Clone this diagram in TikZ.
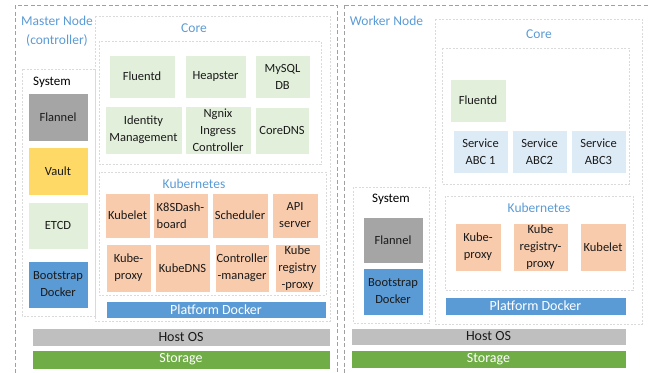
\documentclass[tikz,border=0pt]{standalone}
\usepackage{fontspec}
\setmainfont{Carlito}
\definecolor{hdr}{HTML}{5B9BD5}
\definecolor{grn}{HTML}{E2EFDA}
\definecolor{flan}{HTML}{A5A5A5}
\definecolor{vault}{HTML}{FFD966}
\definecolor{bdock}{HTML}{5B9BD5}
\definecolor{orng}{HTML}{F8CBAD}
\definecolor{svc}{HTML}{DDEBF7}
\definecolor{host}{HTML}{BFBFBF}
\definecolor{stor}{HTML}{70AD47}
\definecolor{txt}{HTML}{1A1A1A}
\definecolor{outerd}{HTML}{A0A0A0}
\definecolor{innerd}{HTML}{DADADA}
\newcommand\bxn[7]{\node[#1, minimum width={(#5-#3)*1pt}, minimum height={(#6-#4)*1pt}] (#2) at ({(#3+#5)/2},{(#4+#6)/2}) {#7};}
\tikzset{
  bx/.style={draw=white, line width=0.6pt, inner sep=0pt, align=center, text=txt, font=\fontsize{12.5}{17}\selectfont},
  bar/.style={bx, font=\fontsize{14}{16}\selectfont},
  outerbox/.style={draw=outerd, line width=0.8pt, dash pattern=on 4pt off 2.5pt},
  innerbox/.style={draw=innerd, line width=0.6pt, dash pattern=on 2pt off 1.5pt},
  hdrtxt/.style={text=hdr, font=\fontsize{13.5}{16}\selectfont, inner sep=0pt},
  systxt/.style={text=black, font=\fontsize{13}{16}\selectfont, inner sep=0pt}
}
\begin{document}
\begin{tikzpicture}[x=1pt,y=-1pt]
\useasboundingbox (0,0) rectangle (650,372);
\clip (0,0) rectangle (650,372);
% ---------- Master ----------
\draw[outerbox] (15,5) rectangle (337,385);
\node[hdrtxt] (mlab1) at (57,21) {Master Node};
\node[hdrtxt] (mlab2) at (57,40) {(controller)};
\draw[innerbox] (95,16) rectangle (330,321);
\node[hdrtxt] (mcore) at (194,28) {Core};
\draw[innerbox] (99,41) rectangle (321,164);
\bxn{bx,fill=grn}{mfluent}{109}{55}{175}{98}{Fluentd}
\bxn{bx,fill=grn}{mheap}{185}{55}{246}{98}{Heapster}
\bxn{bx,fill=grn}{mmysql}{255}{55}{310}{98}{MySQL\\DB}
\bxn{bx,fill=grn}{mident}{105}{106}{182}{154}{Identity\\Management}
\bxn{bx,fill=grn}{mngnix}{185}{106}{251}{154}{Ngnix\\Ingress\\Controller}
\bxn{bx,fill=grn}{mcoredns}{255}{107}{309}{154}{CoreDNS}
\draw[innerbox] (22,69) rectangle (95,316);
\node[systxt] (msys) at (52,82) {System};
\bxn{bx,fill=flan}{mflannel}{28}{93}{88}{141}{Flannel}
\bxn{bx,fill=vault}{mvault}{28}{147}{88}{195}{Vault}
\bxn{bx,fill=grn}{metcd}{28}{202}{88}{249}{ETCD}
\bxn{bx,fill=bdock}{mboot}{28}{261}{88}{308}{Bootstrap\\Docker}
\draw[innerbox] (99,172) rectangle (326,295);
\node[hdrtxt] (mkube) at (194,184) {Kubernetes};
\bxn{bx,fill=orng}{mkubelet}{105}{193}{150}{238}{Kubelet}
\bxn{bx,fill=orng,align=left}{mdash}{153}{193}{208}{238}{K8SDash-\\board}
\bxn{bx,fill=orng}{msched}{212}{193}{268}{238}{Scheduler}
\bxn{bx,fill=orng}{mapi}{272}{193}{318}{238}{API\\server}
\bxn{bx,fill=orng}{mkproxy}{106}{244}{151}{292}{Kube-\\proxy}
\bxn{bx,fill=orng}{mkdns}{155}{244}{210}{292}{KubeDNS}
\bxn{bx,fill=orng}{mctrl}{215}{244}{269}{292}{Controller\\-manager}
\bxn{bx,fill=orng}{mkreg}{275}{244}{320}{292}{Kube\\registry\\-proxy}
\bxn{bar,fill=bdock,text=white}{mpdock}{106}{301}{326}{318}{Platform Docker}
\bxn{bar,fill=host,text=txt}{mhost}{32}{328}{330}{346}{Host OS}
\bxn{bar,fill=stor,text=white}{mstor}{32}{350}{330}{369}{Storage}
% ---------- Worker ----------
\draw[outerbox] (344,5) rectangle (665,385);
\node[hdrtxt] (wlab) at (386.5,21) {Worker Node};
\draw[innerbox] (435,19) rectangle (642,324);
\node[hdrtxt] (wcore) at (539,34) {Core};
\draw[innerbox] (442,48) rectangle (629,184);
\bxn{bx,fill=grn}{wfluent}{450}{79}{506}{122}{Fluentd}
\bxn{bx,fill=svc}{wsvc1}{453}{130}{508}{173}{Service\\ABC 1}
\bxn{bx,fill=svc}{wsvc2}{512}{130}{567}{173}{Service\\ABC2}
\bxn{bx,fill=svc}{wsvc3}{571}{130}{626}{173}{Service\\ABC3}
\draw[innerbox] (353,187) rectangle (429,323);
\node[systxt] (wsys) at (391,199) {System};
\bxn{bx,fill=flan}{wflannel}{363}{217}{423}{263}{Flannel}
\bxn{bx,fill=bdock}{wboot}{363}{268}{423}{315}{Bootstrap\\Docker}
\draw[innerbox] (445,196) rectangle (633,290);
\node[hdrtxt] (wkube) at (539,208) {Kubernetes};
\bxn{bx,fill=orng}{wkproxy}{455}{223}{501}{271}{Kube-\\proxy}
\bxn{bx,fill=orng}{wkreg}{513}{223}{568}{271}{Kube\\registry-\\proxy}
\bxn{bx,fill=orng}{wkubelet}{580}{223}{626}{271}{Kubelet}
\bxn{bar,fill=bdock,text=white}{wpdock}{445}{297}{626}{315}{Platform Docker}
\bxn{bar,fill=host,text=txt}{whost}{351}{328}{626}{345}{Host OS}
\bxn{bar,fill=stor,text=white}{wstor}{351}{350}{626}{368}{Storage}
\end{tikzpicture}
\end{document}
